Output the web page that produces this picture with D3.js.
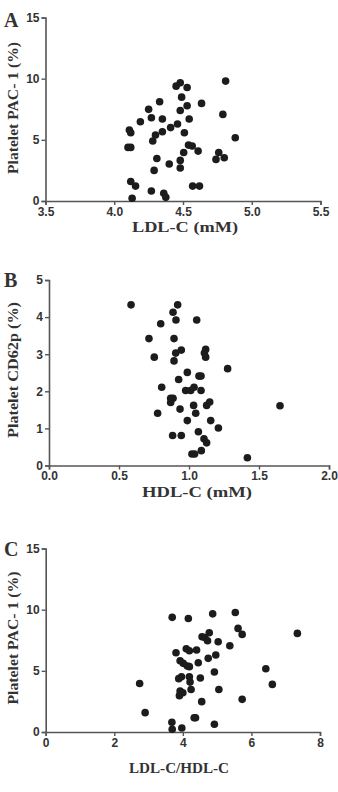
<!DOCTYPE html>
<html><head><meta charset="utf-8">
<script src="https://cdn.jsdelivr.net/npm/d3@7"></script>
<style>
html,body{margin:0;padding:0;background:#fff;}
svg{display:block;}
.tick text{font-family:"Liberation Sans",Arial,sans-serif;font-weight:bold;font-size:12px;fill:#333;}
.title{font-family:"Liberation Serif","Times New Roman",serif;font-weight:bold;fill:#333;}
</style></head><body>
<svg id="chart" width="338" height="792"></svg>
<script>
// ---- Panel A: LDL-C vs PAC-1 ----
const aX = [4.10,4.12,4.11,4.12,4.12,4.155,4.13,4.19,4.25,4.27,4.28,4.30,4.31,4.29,4.27,4.33,4.35,4.35,4.36,4.375,4.40,4.41,4.46,4.45,4.48,4.53,4.49,4.48,4.53,4.545,4.51,4.505,4.48,4.48,4.54,4.567,4.57,4.62,4.61,4.635,4.74,4.76,4.79,4.81,4.80,4.88];
const aY = [4.38,4.38,5.80,5.58,1.60,1.22,0.22,6.48,7.49,6.80,4.90,5.40,3.48,2.50,0.82,8.11,6.70,5.66,0.63,0.30,3.02,6.00,6.29,9.39,9.67,9.28,8.49,7.40,7.79,6.70,5.58,3.97,3.32,2.70,4.57,4.49,1.22,1.22,4.08,7.98,3.40,3.97,7.08,9.80,3.54,5.17];
const aXTicks = [3.5,4.0,4.5,5.0,5.5];
const aYTicks = [0,5,10,15];

// ---- Panel B: HDL-C vs CD62p ----
const bX = [0.586,0.919,0.886,0.907,1.055,0.798,0.714,0.893,0.752,0.905,0.945,0.893,1.119,1.11,1.119,1.276,0.988,1.071,1.086,0.926,0.805,0.976,1.012,1.036,1.086,0.869,0.886,0.869,0.936,1.033,1.048,0.776,1.126,1.148,1.155,1.21,0.988,1.067,0.883,0.945,1.107,1.126,1.088,1.021,1.04,1.417,1.65];
const bY = [4.33,4.33,4.13,3.92,3.92,3.82,3.42,3.42,2.92,3.03,3.11,2.82,3.13,3.03,2.92,2.61,2.51,2.41,2.41,2.32,2.11,2.02,2.02,2.11,2.02,1.81,1.81,1.70,1.52,1.62,1.41,1.41,1.62,1.71,1.21,1.01,1.21,0.91,0.81,0.81,0.72,0.61,0.40,0.31,0.31,0.21,1.61];
const bXTicks = [0.0,0.5,1.0,1.5,2.0];
const bYTicks = [0,1,2,3,4,5];

// ---- Panel C: LDL-C/HDL-C vs PAC-1 ----
const cX = [2.74,2.90,3.69,3.68,3.69,3.97,4.16,3.80,3.92,4.01,4.13,4.19,4.10,4.19,4.40,4.45,3.96,3.88,4.19,4.21,4.24,3.92,4.00,3.90,4.51,4.55,4.37,4.33,4.92,4.87,4.56,4.64,4.77,4.72,4.74,4.96,5.03,4.92,5.05,5.37,5.53,5.61,5.73,5.73,6.42,6.61,7.34];
const cY = [3.97,1.58,9.37,0.79,0.22,0.33,9.28,6.48,5.83,5.61,5.39,5.34,6.81,6.64,6.70,5.66,4.52,4.36,4.52,4.08,3.48,3.35,3.21,2.97,4.41,2.48,1.17,1.17,0.63,9.66,7.79,7.73,8.11,7.46,6.02,6.29,7.38,4.90,3.48,7.05,9.77,8.47,7.98,2.67,5.17,3.89,8.06];
const cXTicks = [0,2,4,6,8];
const cYTicks = [0,5,10,15];

const letters = ["A","B","C"];
const xTitles = ["LDL-C (mM)","HDL-C (mM)","LDL-C/HDL-C"];
const yTitles = ["Platelet PAC- 1 (%)","Platelet CD62p (%)","Platelet PAC- 1 (%)"];

const svg = d3.select("#chart");

const panels = [
  {xs:aX, ys:aY, xt:aXTicks, yt:aYTicks, xd:[3.5,5.5], yd:[0,15], fmt:d3.format(".1f"),
   x0:45.5, x1:320.5, yTop:17.5, yBot:201, letterY:27, yTitleC:108, yTitleLen:132, xTitleY:232, xTitleLen:106, xTitleC:185},
  {xs:bX, ys:bY, xt:bXTicks, yt:bYTicks, xd:[0,2], yd:[0,5], fmt:d3.format(".1f"),
   x0:49, x1:329, yTop:280, yBot:465.5, letterY:287, yTitleC:370, yTitleLen:136, xTitleY:497, xTitleLen:110, xTitleC:197},
  {xs:cX, ys:cY, xt:cXTicks, yt:cYTicks, xd:[0,8], yd:[0,15], fmt:d3.format("d"),
   x0:45.7, x1:320, yTop:548.5, yBot:732, letterY:556, yTitleC:638, yTitleLen:133, xTitleY:773, xTitleLen:100, xTitleC:179}
];

panels.forEach((p,i) => {
  const x = d3.scaleLinear().domain(p.xd).range([p.x0,p.x1]);
  const y = d3.scaleLinear().domain(p.yd).range([p.yBot,p.yTop]);
  const g = svg.append("g");

  const xa = g.append("g").attr("transform",`translate(0,${p.yBot})`)
    .call(d3.axisBottom(x).tickValues(p.xt).tickFormat(p.fmt).tickSizeOuter(0).tickSize(4).tickPadding(2));
  const ya = g.append("g").attr("transform",`translate(${p.x0},0)`)
    .call(d3.axisLeft(y).tickValues(p.yt).tickFormat(d3.format("d")).tickSizeOuter(0).tickSize(4).tickPadding(2));
  [xa,ya].forEach(a=>{
    a.selectAll(".domain").attr("stroke","#555").attr("stroke-width",1.6);
    a.selectAll(".tick line").attr("stroke","#555").attr("stroke-width",1.4);
  });

  g.append("g").selectAll("circle").data(p.xs.map((v,k)=>[v,p.ys[k]])).join("circle")
    .attr("cx",d=>x(d[0])).attr("cy",d=>y(d[1])).attr("r",3.8).attr("fill","#1c1c1c");

  g.append("text").attr("class","title").attr("x",4).attr("y",p.letterY)
    .attr("font-size",20).text(letters[i]);

  g.append("text").attr("class","title").attr("font-size",14)
    .attr("text-anchor","middle")
    .attr("transform",`translate(18,${p.yTitleC}) rotate(-90)`)
    .attr("textLength",p.yTitleLen).attr("lengthAdjust","spacingAndGlyphs")
    .text(yTitles[i]);

  g.append("text").attr("class","title").attr("font-size",15)
    .attr("text-anchor","middle")
    .attr("x",p.xTitleC).attr("y",p.xTitleY)
    .attr("textLength",p.xTitleLen).attr("lengthAdjust","spacingAndGlyphs")
    .text(xTitles[i]);
});
</script>
</body></html>
